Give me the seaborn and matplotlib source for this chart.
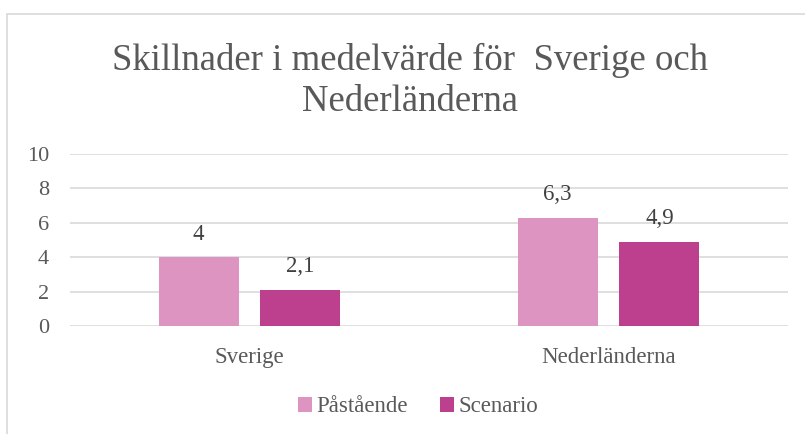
import pandas as pd
import matplotlib.pyplot as plt
import seaborn as sns
from matplotlib.patches import Rectangle

# values
countries = ['Sverige', 'Nederländerna']
series = ['Påstående', 'Scenario']
pastaende = [4.0, 6.3]
scenario = [2.1, 4.9]
colors = ['#DD94C1', '#BD408F']
yticks = [0, 2, 4, 6, 8, 10]

df = pd.DataFrame({
    'land': countries * 2,
    'typ': [series[0]] * 2 + [series[1]] * 2,
    'varde': pastaende + scenario,
})

sns.set_theme(style='white')
plt.rcParams['font.family'] = ['Liberation Serif', 'DejaVu Serif']
grey = '#595959'

fig = plt.figure(figsize=(8.05, 4.34), dpi=100)
ax = fig.add_axes([70 / 805, 1 - 326 / 434, 718 / 805, 172 / 434])

sns.barplot(data=df, x='land', y='varde', hue='typ', order=countries,
            hue_order=series, palette=colors, saturation=1, width=0.568,
            gap=0.215, linewidth=0, errorbar=None, ax=ax)

ax.set_ylim(0, 10)
ax.set_yticks(yticks)
ax.set_xlim(-0.5, 1.5)
ax.set_xlabel('')
ax.set_ylabel('')
for s in ax.spines.values():
    s.set_visible(False)
ax.yaxis.grid(True, color='#D9D9D9', linewidth=1.2)
ax.set_axisbelow(True)
ax.tick_params(axis='both', length=0, colors=grey, labelsize=16)
ax.tick_params(axis='y', pad=15)
ax.tick_params(axis='x', pad=15, labelsize=16.5)

for cont in ax.containers:
    labels = [f'{b.get_height():g}'.replace('.', ',') for b in cont]
    ax.bar_label(cont, labels=labels, padding=9, fontsize=16.5, color='#404040')

ax.legend(loc='center', bbox_to_anchor=(418 / 805, 1 - 407 / 434),
          bbox_transform=fig.transFigure, ncol=2, frameon=False,
          fontsize=16.5, handlelength=0.6, handleheight=0.6,
          handletextpad=0.2, columnspacing=1.4, labelcolor=grey)

fig.text(410 / 805, 1 - 81 / 434, 'Skillnader i medelvärde för  Sverige och\nNederländerna',
         ha='center', va='center', fontsize=26.5, color=grey, linespacing=1.25)

fig.patches.append(Rectangle((7 / 805, -0.1), 1.1, 1.1 - 14 / 434,
                             transform=fig.transFigure, fill=False,
                             edgecolor='#D9D9D9', linewidth=1.2))

fig.savefig('out.png', dpi=100)
